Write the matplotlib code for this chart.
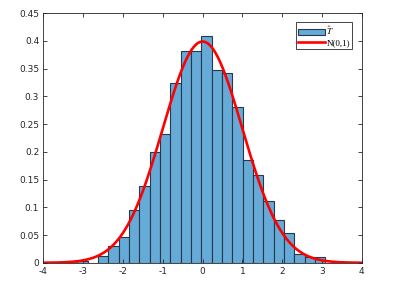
import numpy as np
import matplotlib
matplotlib.use('Agg')
import matplotlib.pyplot as plt

#%% data
bin_edges = [-3.406, -3.146, -2.887, -2.627, -2.367, -2.107, -1.848, -1.588,
             -1.328, -1.069, -0.809, -0.549, -0.290, -0.030, 0.230, 0.489,
             0.749, 1.009, 1.268, 1.528, 1.788, 2.047, 2.307, 2.567, 2.826, 3.086]
heights = [0.004, 0.004, 0.0, 0.012, 0.031, 0.046, 0.096, 0.138, 0.200, 0.232,
           0.324, 0.381, 0.381, 0.408, 0.347, 0.343, 0.281, 0.185, 0.158, 0.111,
           0.077, 0.054, 0.015, 0.011, 0.011]
mu, sigma = 0.0, 1.0
x_ticks = [-4, -3, -2, -1, 0, 1, 2, 3, 4]
y_ticks = [0, 0.05, 0.1, 0.15, 0.2, 0.25, 0.3, 0.35, 0.4, 0.45]
y_ticklabels = ['0', '0.05', '0.1', '0.15', '0.2', '0.25', '0.3', '0.35', '0.4', '0.45']

#%% plot
plt.rcParams['mathtext.fontset'] = 'stix'
fig = plt.figure(figsize=(3.98, 3.0), dpi=100)
ax = fig.add_axes([0.109, 0.124, 0.800, 0.832])

edges = np.array(bin_edges)
bars = ax.bar(edges[:-1], heights, width=np.diff(edges), align='edge',
              color='#66aad7', edgecolor='#25394a', linewidth=0.8)

x = np.linspace(-4, 4, 400)
pdf = np.exp(-0.5 * ((x - mu) / sigma) ** 2) / (sigma * np.sqrt(2 * np.pi))
line, = ax.plot(x, pdf, color='#ff0000', linewidth=1.9)

ax.set_xlim(-4, 4)
ax.set_ylim(0, 0.45)
ax.set_xticks(x_ticks)
ax.set_xticklabels([str(t) for t in x_ticks])
ax.set_yticks(y_ticks)
ax.set_yticklabels(y_ticklabels)
ax.tick_params(direction='in', length=3, width=0.6, labelsize=6.5,
               colors='#262626', top=True, right=True, pad=3)
for s in ax.spines.values():
    s.set_linewidth(0.6)
    s.set_color('#262626')

leg = ax.legend([bars, line], [r'$\hat{T}$', 'N(0,1)'],
                loc='upper right', bbox_to_anchor=(0.97, 0.965),
                prop={'family': 'Liberation Serif', 'size': 6.5},
                fancybox=False, edgecolor='#262626', framealpha=1,
                handlelength=2.9, handletextpad=0.2, borderpad=0.25,
                labelspacing=0.2, borderaxespad=0)
leg.get_frame().set_linewidth(0.6)

fig.savefig('out.png', dpi=100)
